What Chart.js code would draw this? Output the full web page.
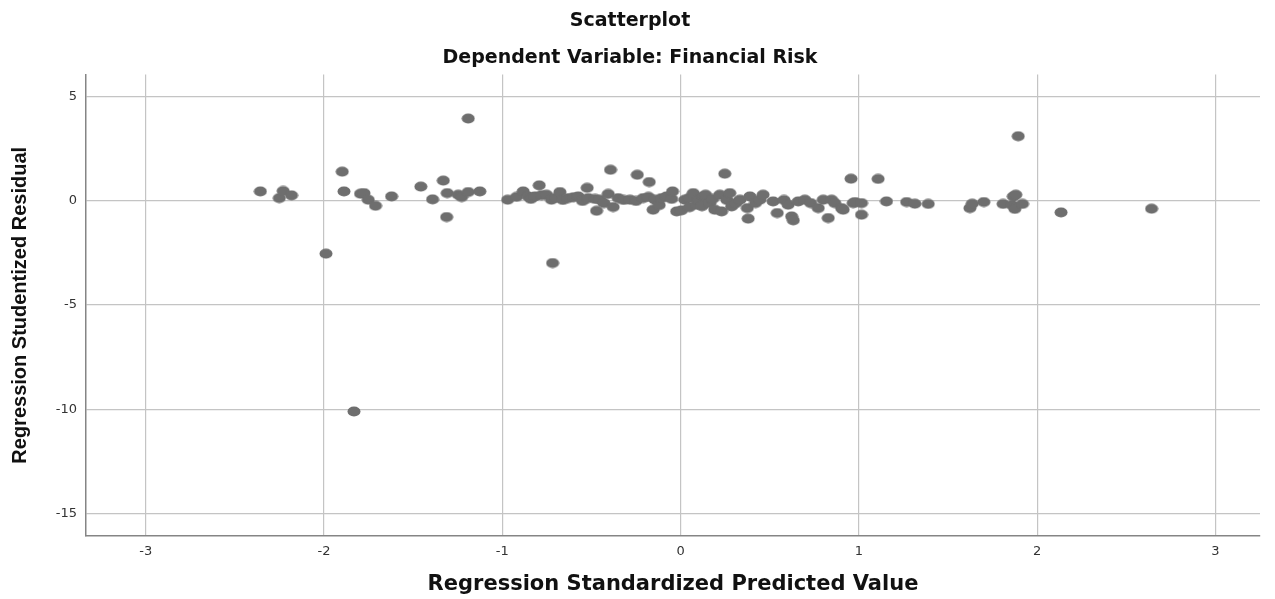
<!DOCTYPE html>
<html lang="en">
  <head>
    <meta charset="utf-8">
    <title>Scatterplot</title>
    <script src="https://cdn.jsdelivr.net/npm/chart.js@4.4.0/dist/chart.umd.min.js"></script>
    <style>
      html, body { margin: 0; padding: 0; background: #fff; }
      #wrap { width: 1275px; height: 599px; }
    </style>
  </head>
  <body>
    <div id="wrap"><canvas id="scatter"></canvas></div>

  <script>
  // values
  var predicted = [
    -2.357, -2.251, -2.229, -2.182, -1.989, -1.898, -1.888, -1.832, -1.795, -1.776,
    -1.752, -1.711, -1.621, -1.457, -1.391, -1.331, -1.312, -1.309, -1.247, -1.228,
    -1.191, -1.191, -1.126, -0.970, -0.920, -0.883, -0.855, -0.840, -0.817, -0.793,
    -0.780, -0.752, -0.724, -0.718, -0.700, -0.677, -0.660, -0.630, -0.600, -0.574,
    -0.550, -0.524, -0.518, -0.480, -0.471, -0.453, -0.430, -0.406, -0.393, -0.378,
    -0.350, -0.320, -0.284, -0.250, -0.243, -0.210, -0.180, -0.176, -0.154, -0.144,
    -0.120, -0.107, -0.079, -0.050, -0.045, -0.022, 0.005, 0.024, 0.050, 0.050,
    0.071, 0.090, 0.100, 0.120, 0.127, 0.140, 0.164, 0.180, 0.192, 0.220,
    0.230, 0.248, 0.260, 0.276, 0.286, 0.310, 0.333, 0.374, 0.379, 0.389,
    0.420, 0.445, 0.463, 0.519, 0.542, 0.580, 0.603, 0.623, 0.632, 0.660,
    0.697, 0.730, 0.772, 0.800, 0.828, 0.847, 0.865, 0.903, 0.912, 0.956,
    0.968, 0.978, 1.015, 1.015, 1.108, 1.155, 1.268, 1.314, 1.389, 1.623,
    1.636, 1.701, 1.809, 1.860, 1.866, 1.875, 1.880, 1.894, 1.918, 2.134,
    2.642
  ];
  var residual = [
    0.46, 0.14, 0.48, 0.27, -2.53, 1.41, 0.46, -10.11, 0.35, 0.38,
    0.06, -0.23, 0.22, 0.69, 0.08, 0.98, -0.77, 0.38, 0.30, 0.19,
    0.43, 3.96, 0.46, 0.06, 0.20, 0.46, 0.22, 0.10, 0.22, 0.75,
    0.28, 0.30, 0.06, -2.98, 0.15, 0.43, 0.05, 0.14, 0.18, 0.22,
    0.00, 0.63, 0.14, 0.10, -0.47, 0.06, -0.10, 0.34, 1.50, -0.29,
    0.14, 0.05, 0.06, 0.00, 1.26, 0.14, 0.20, 0.91, -0.42, 0.06,
    -0.20, 0.14, 0.22, 0.10, 0.46, -0.50, -0.45, 0.06, 0.15, -0.30,
    0.38, -0.18, 0.05, -0.25, 0.22, 0.30, -0.10, 0.10, -0.42, 0.30,
    -0.50, 1.31, 0.05, 0.38, -0.26, -0.10, 0.06, -0.34, -0.85, 0.22,
    -0.10, 0.06, 0.30, -0.02, -0.58, 0.05, -0.18, -0.74, -0.93, -0.02,
    0.06, -0.10, -0.34, 0.06, -0.82, 0.06, -0.10, -0.34, -0.42, 1.07,
    -0.10, -0.05, -0.10, -0.66, 1.06, -0.02, -0.05, -0.13, -0.14, -0.34,
    -0.13, -0.05, -0.14, -0.20, 0.22, -0.38, 0.30, 3.11, -0.14, -0.55,
    -0.37
  ];
  var xTicks = [-3, -2, -1, 0, 1, 2, 3];
  var yTicks = [-15, -10, -5, 0, 5];

  var pts = [];
  for (i = 0; i < predicted.length; i++) {
    pts.push({x: predicted[i], y: residual[i]});
  }

  // slightly wide dot, like the source picture
  var dot = document.createElement('canvas');
  dot.width = 14;
  dot.height = 11;
  var dctx = dot.getContext('2d');
  dctx.fillStyle = '#6e6e6e';
  dctx.beginPath();
  dctx.ellipse(7, 5.5, 6.5, 5, 0, 0, Math.PI * 2);
  dctx.fill();

  var gridCol = '#c4c4c4';
  var axisCol = '#858585';

  new Chart(document.getElementById('scatter'), {
    type: 'scatter',
    data: {
      datasets: [{
        label: 'Residual',
        data: pts,
        pointStyle: dot,
        backgroundColor: '#6e6e6e',
        borderWidth: 0
      }]
    },
    options: {
      responsive: true,
      maintainAspectRatio: false,
      animation: false,
      layout: { padding: { left: 0, right: 15, top: 0, bottom: 0 } },
      plugins: {
        legend: { display: false },
        tooltip: { enabled: false },
        title: {
          display: true,
          text: 'Scatterplot',
          color: '#111',
          font: { family: 'DejaVu Sans', size: 19, weight: 'bold' },
          padding: { top: 10, bottom: 14 }
        },
        subtitle: {
          display: true,
          text: 'Dependent Variable: Financial Risk',
          color: '#111',
          font: { family: 'DejaVu Sans', size: 19, weight: 'bold' },
          padding: { top: 0, bottom: 5 }
        }
      },
      scales: {
        x: {
          type: 'linear',
          min: -3.335,
          max: 3.25,
          afterBuildTicks: function (s) { s.ticks = xTicks.map(v => ({value: v})); },
          afterFit: function (s) { s.height = 63; },
          grid: { color: gridCol, lineWidth: 1.2, drawTicks: false },
          border: { color: axisCol, width: 1.5 },
          ticks: {
            color: '#333',
            padding: 8,
            font: { family: 'DejaVu Sans', size: 13 }
          },
          title: {
            display: true,
            text: 'Regression Standardized Predicted Value',
            color: '#111',
            font: { family: 'DejaVu Sans', size: 21, weight: 'bold' },
            padding: { top: 0, bottom: 2 }
          }
        },
        y: {
          type: 'linear',
          min: -16.09,
          max: 6.07,
          afterBuildTicks: function (s) { s.ticks = yTicks.map(v => ({value: v})); },
          afterFit: function (s) { s.width = 86; },
          grid: { color: gridCol, lineWidth: 1.2, drawTicks: false },
          border: { color: axisCol, width: 1.5 },
          ticks: {
            color: '#333',
            padding: 9,
            font: { family: 'DejaVu Sans', size: 13 }
          },
          title: {
            display: true,
            text: 'Regression Studentized Residual',
            color: '#111',
            font: { family: 'Liberation Sans', size: 20, weight: 'bold' },
            padding: { top: 8, bottom: 0 }
          }
        }
      }
    }
  });
  </script>
  </body>
</html>
